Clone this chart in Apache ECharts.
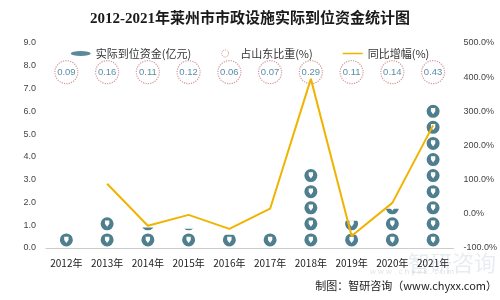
<!DOCTYPE html>
<html><head><meta charset="utf-8">
<script src="https://cdn.jsdelivr.net/npm/echarts@6/dist/echarts.min.js"></script>
<style>html,body{margin:0;padding:0;background:#fff}#c{width:500px;height:300px}</style>
</head><body><div id="c"></div>
<script>
const years = ['2012年','2013年','2014年','2015年','2016年','2017年','2018年','2019年','2020年','2021年'];
const funds = [0.72, 1.4, 0.9, 0.85, 0.58, 0.66, 3.48, 1.2, 1.72, 6.3];
const shares = [0.09, 0.16, 0.11, 0.12, 0.06, 0.07, 0.29, 0.11, 0.14, 0.43];
const growth = [null, 88, -35, -3, -44, 15, 395, -65, 32, 259];
const shareRowLevel = 7.72;

const pinPath = 'path://M12 0A12 12 0 1 1 12 24A12 12 0 1 1 12 0ZM8 6L8 12L12 17.5L16 12L16 6Z';
const chart = echarts.init(document.getElementById('c'), null, {renderer:'canvas'});
chart.setOption({
  animation:false,
  backgroundColor:'#fff',
  title:{text:'2012-2021年莱州市市政设施实际到位资金统计图', left:'center', top:7,
    textStyle:{fontSize:15, fontWeight:'bold', color:'#1a1a1a', fontFamily:'Liberation Serif, Noto Sans CJK SC'}},
  legend:{top:43, left:'center', itemGap:30, itemWidth:20, itemHeight:7,
    textStyle:{fontSize:11, color:'#333', fontFamily:'Noto Sans CJK SC'},
    data:[
      {name:'实际到位资金(亿元)', icon:'path://M0 5A10 2.5 0 1 1 20 5A10 2.5 0 1 1 0 5Z', itemStyle:{color:'#5a8a9a'}},
      {name:'占山东比重(%)', icon:'circle', itemStyle:{color:'#fff', borderColor:'#c77', borderType:'dotted', borderWidth:1}},
      {name:'同比增幅(%)', icon:'path://M0 0L0.01 0L0 0.01ZM0 2.7L20 2.7L20 4.3L0 4.3ZM0 7L0.01 7L0 6.99Z', itemStyle:{color:'#f0b400'}}
    ]},
  grid:{left:46, right:45, top:43, bottom:52},
  xAxis:{type:'category', data:years,
    axisLine:{lineStyle:{color:'#ccc'}}, axisTick:{show:false},
    axisLabel:{interval:0, fontSize:10, color:'#222', margin:10, fontFamily:'Noto Sans CJK SC'}},
  yAxis:[
    {type:'value', min:0, max:9, interval:1, splitLine:{show:false},
      axisLine:{show:false}, axisTick:{show:false},
      axisLabel:{fontSize:9, color:'#444', margin:10, formatter:v=>v.toFixed(1)}},
    {type:'value', min:-100, max:500, interval:100, splitLine:{show:false},
      axisLine:{show:false}, axisTick:{show:false},
      axisLabel:{fontSize:9, color:'#444', margin:10, formatter:v=>v.toFixed(1)+'%'}}
  ],
  series:[
    {name:'实际到位资金(亿元)', type:'pictorialBar', data:funds, symbol:pinPath,
      symbolSize:[13,13], symbolRepeat:13, symbolClip:true, symbolMargin:'1!',
      symbolBoundingData:9.18, itemStyle:{color:'#4f7f8f'}, z:3},
    {name:'占山东比重(%)', type:'scatter', data:shares.map(s=>shareRowLevel), symbol:'circle', symbolSize:23,
      itemStyle:{color:'#fff', borderColor:'#c98080', borderType:'dotted', borderWidth:1.2},
      label:{show:true, position:'inside', fontSize:9.5, color:'#2f7090',
        formatter:p=>shares[p.dataIndex].toFixed(2)}, z:4},
    {name:'同比增幅(%)', type:'line', yAxisIndex:1, data:growth, symbol:'none',
      lineStyle:{color:'#f0b400', width:2}, itemStyle:{color:'#f0b400'}, z:5}
  ],
  graphic:[
    {type:'text', right:4, top:252, z:0, style:{text:'智研咨询', fontSize:22, fill:'rgba(150,170,190,0.22)', fontFamily:'Noto Sans CJK SC'}},
    {type:'text', right:46, top:268, z:0, style:{text:'w w w . c h y x x . c o m', fontSize:8, fill:'rgba(150,170,190,0.3)'}},
    {type:'text', right:3, top:280, style:{text:'制图：智研咨询（www.chyxx.com）', fontSize:11, fill:'#222', fontFamily:'Noto Sans CJK SC'}}
  ]
});
</script></body></html>
